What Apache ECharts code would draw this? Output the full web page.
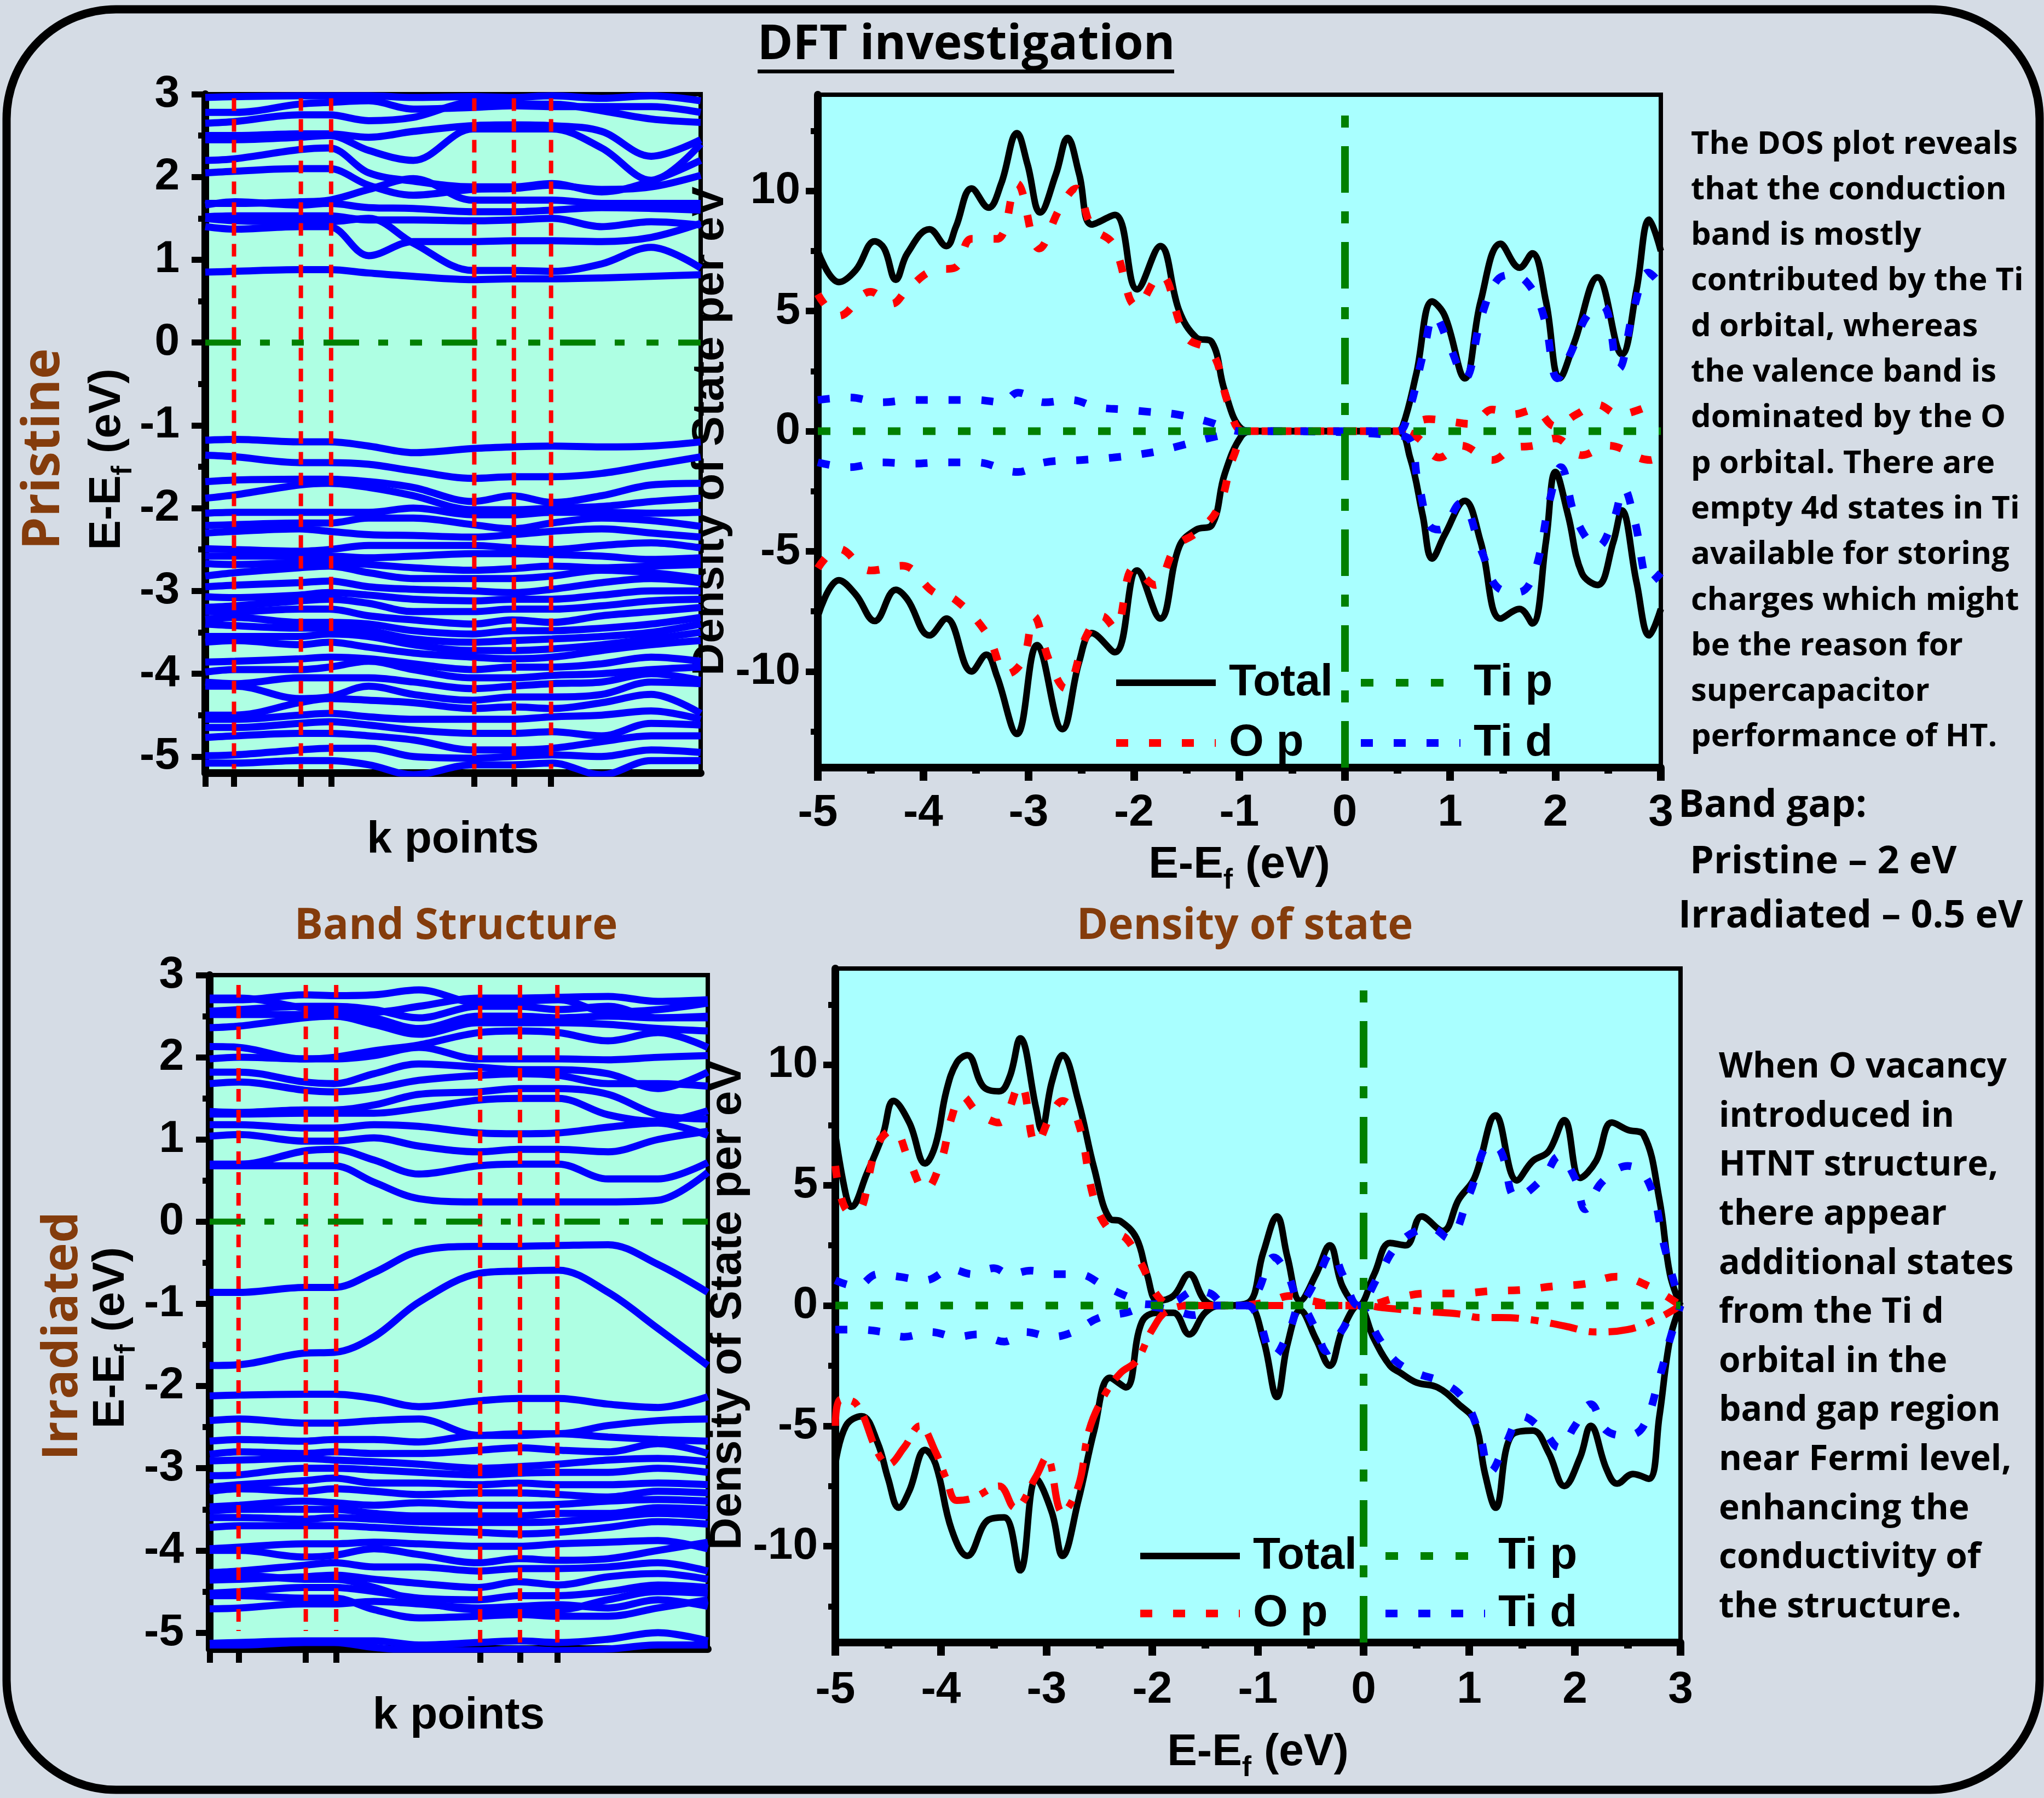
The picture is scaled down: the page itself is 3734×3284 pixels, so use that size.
<!DOCTYPE html>
<html>
<head>
<meta charset="utf-8">
<title>DFT investigation</title>
<script src="https://cdn.jsdelivr.net/npm/echarts@6.0.0/dist/echarts.min.js"></script>
<style>
  html, body { margin: 0; padding: 0; background: #D5DCE5; }
  #chart1 { width: 3734px; height: 3284px; }
</style>
</head>
<body>
<div id="chart1"></div>
<script>
// k path: sample positions along the path (0..100) and the high-symmetry points
var kGrid = [0, 6, 19, 25, 33, 42, 54, 62, 70, 80, 90, 100];
var kPoints = [5.8, 19.3, 25.4, 54.3, 62.3, 69.8];
var bandTicks = [-5, -4, -3, -2, -1, 0, 1, 2, 3];
var bandHalfTicks = [-4.5, -3.5, -2.5, -1.5, -0.5, 0.5, 1.5, 2.5];
var dosTicks = [-10, -5, 0, 5, 10];
var dosHalfTicks = [-12.5, -7.5, -2.5, 2.5, 7.5, 12.5];

// pristine bands (eV at each kGrid position)
var pristineCond = [
  [0.85, 0.86, 0.88, 0.88, 0.84, 0.80, 0.76, 0.77, 0.77, 0.78, 0.80, 0.82],
  [1.40, 1.37, 1.40, 1.40, 1.05, 1.22, 1.22, 1.23, 1.23, 1.22, 1.27, 1.44],
  [1.50, 1.47, 1.46, 1.46, 1.50, 1.20, 0.87, 0.87, 0.86, 0.95, 1.15, 0.90],
  [1.52, 1.53, 1.53, 1.53, 1.48, 1.48, 1.47, 1.48, 1.50, 1.40, 1.46, 1.42],
  [1.66, 1.70, 1.66, 1.68, 1.63, 1.62, 1.58, 1.58, 1.60, 1.63, 1.62, 1.60],
  [1.68, 1.68, 1.70, 1.72, 1.85, 1.98, 1.72, 1.72, 1.72, 1.68, 1.68, 1.68],
  [2.05, 2.07, 2.10, 2.10, 1.90, 1.78, 1.85, 1.86, 1.90, 1.85, 1.88, 2.02],
  [2.20, 2.22, 2.33, 2.35, 2.05, 1.95, 1.88, 1.88, 1.92, 1.82, 1.95, 2.20],
  [2.45, 2.45, 2.48, 2.50, 2.32, 2.20, 2.58, 2.58, 2.58, 2.35, 1.96, 2.40],
  [2.50, 2.50, 2.52, 2.52, 2.48, 2.55, 2.62, 2.63, 2.62, 2.55, 2.25, 2.45],
  [2.65, 2.67, 2.75, 2.75, 2.68, 2.72, 2.90, 2.88, 2.88, 2.80, 2.70, 2.66],
  [2.78, 2.78, 2.88, 2.90, 2.92, 2.82, 2.84, 2.86, 2.85, 2.85, 2.85, 2.78],
  [2.96, 2.97, 2.98, 2.98, 2.98, 2.96, 2.97, 2.96, 2.98, 2.95, 2.98, 2.92]
];
var pristineVal = [
  [-1.18, -1.17, -1.20, -1.20, -1.25, -1.33, -1.28, -1.26, -1.25, -1.26, -1.25, -1.20],
  [-1.36, -1.38, -1.45, -1.45, -1.47, -1.55, -1.64, -1.62, -1.62, -1.58, -1.48, -1.38],
  [-1.68, -1.66, -1.65, -1.65, -1.68, -1.75, -1.92, -1.85, -1.93, -1.85, -1.72, -1.70],
  [-1.88, -1.84, -1.72, -1.70, -1.75, -1.85, -2.02, -2.02, -2.00, -1.98, -1.92, -1.88],
  [-2.06, -2.05, -2.05, -2.05, -2.05, -2.00, -2.08, -2.08, -2.05, -2.05, -2.06, -2.05],
  [-2.21, -2.20, -2.18, -2.18, -2.12, -2.12, -2.20, -2.25, -2.18, -2.12, -2.15, -2.22],
  [-2.30, -2.28, -2.25, -2.28, -2.32, -2.33, -2.35, -2.32, -2.28, -2.25, -2.30, -2.35],
  [-2.49, -2.50, -2.52, -2.50, -2.45, -2.45, -2.45, -2.48, -2.50, -2.45, -2.42, -2.48],
  [-2.58, -2.58, -2.58, -2.58, -2.60, -2.58, -2.55, -2.55, -2.56, -2.58, -2.62, -2.60],
  [-2.67, -2.68, -2.66, -2.66, -2.68, -2.72, -2.75, -2.73, -2.70, -2.72, -2.70, -2.68],
  [-2.82, -2.78, -2.72, -2.70, -2.78, -2.85, -2.85, -2.85, -2.82, -2.75, -2.78, -2.85],
  [-2.95, -2.93, -2.90, -2.88, -2.95, -2.98, -3.00, -3.02, -2.98, -2.90, -2.85, -2.90],
  [-3.07, -3.08, -3.05, -3.02, -3.05, -3.10, -3.12, -3.10, -3.10, -3.05, -3.00, -3.00],
  [-3.20, -3.18, -3.12, -3.10, -3.15, -3.25, -3.25, -3.22, -3.22, -3.18, -3.12, -3.10],
  [-3.25, -3.25, -3.22, -3.22, -3.30, -3.35, -3.40, -3.35, -3.38, -3.30, -3.25, -3.20],
  [-3.34, -3.32, -3.38, -3.38, -3.40, -3.48, -3.52, -3.48, -3.48, -3.45, -3.40, -3.32],
  [-3.40, -3.42, -3.45, -3.45, -3.48, -3.58, -3.62, -3.60, -3.58, -3.55, -3.50, -3.40],
  [-3.55, -3.55, -3.55, -3.52, -3.55, -3.65, -3.72, -3.72, -3.70, -3.65, -3.58, -3.50],
  [-3.62, -3.60, -3.65, -3.62, -3.68, -3.75, -3.80, -3.82, -3.80, -3.72, -3.65, -3.60],
  [-3.86, -3.85, -3.82, -3.80, -3.82, -3.88, -3.95, -3.92, -3.92, -3.88, -3.80, -3.85],
  [-3.98, -3.95, -3.95, -3.92, -3.85, -3.95, -4.05, -4.05, -4.02, -4.00, -3.95, -3.92],
  [-4.10, -4.12, -4.05, -4.05, -4.05, -4.10, -4.18, -4.15, -4.12, -4.10, -4.00, -4.08],
  [-4.15, -4.15, -4.30, -4.28, -4.15, -4.25, -4.32, -4.28, -4.28, -4.25, -4.10, -4.12],
  [-4.50, -4.50, -4.35, -4.30, -4.32, -4.35, -4.42, -4.40, -4.42, -4.35, -4.25, -4.48],
  [-4.55, -4.55, -4.50, -4.48, -4.52, -4.55, -4.55, -4.55, -4.52, -4.50, -4.45, -4.55],
  [-4.65, -4.65, -4.60, -4.58, -4.62, -4.68, -4.72, -4.72, -4.70, -4.75, -4.60, -4.62],
  [-4.77, -4.75, -4.72, -4.72, -4.75, -4.80, -4.92, -4.92, -4.90, -4.82, -4.75, -4.75],
  [-4.99, -4.98, -4.92, -4.90, -4.90, -5.00, -5.02, -5.00, -4.98, -5.00, -4.92, -4.95],
  [-5.08, -5.08, -5.05, -5.05, -5.10, -5.22, -5.10, -5.10, -5.08, -5.22, -5.05, -5.05]
];

// irradiated bands
var irradCond = [
  [0.68, 0.68, 0.68, 0.68, 0.48, 0.28, 0.24, 0.24, 0.24, 0.24, 0.26, 0.60],
  [0.70, 0.70, 0.86, 0.88, 0.75, 0.58, 0.68, 0.70, 0.70, 0.52, 0.52, 0.72],
  [1.04, 1.06, 0.98, 0.98, 1.02, 0.92, 0.85, 0.88, 0.88, 0.85, 1.00, 1.10],
  [1.18, 1.18, 1.14, 1.14, 1.18, 1.16, 1.08, 1.07, 1.08, 1.15, 1.20, 1.05],
  [1.31, 1.31, 1.32, 1.32, 1.32, 1.38, 1.48, 1.50, 1.50, 1.30, 1.22, 1.35],
  [1.34, 1.33, 1.36, 1.36, 1.42, 1.55, 1.58, 1.62, 1.62, 1.55, 1.30, 1.25],
  [1.68, 1.70, 1.60, 1.58, 1.62, 1.72, 1.78, 1.80, 1.78, 1.68, 1.68, 1.65],
  [1.82, 1.82, 1.70, 1.68, 1.80, 1.92, 1.88, 1.85, 1.85, 1.80, 1.62, 1.82],
  [1.98, 2.00, 1.98, 1.98, 2.02, 2.12, 1.98, 1.98, 1.98, 1.97, 2.00, 2.02],
  [2.13, 2.12, 1.98, 2.00, 2.08, 2.15, 2.30, 2.32, 2.30, 2.20, 2.30, 2.12],
  [2.36, 2.38, 2.48, 2.50, 2.40, 2.28, 2.42, 2.42, 2.42, 2.40, 2.35, 2.32],
  [2.52, 2.52, 2.52, 2.55, 2.48, 2.35, 2.50, 2.50, 2.48, 2.50, 2.48, 2.50],
  [2.56, 2.58, 2.62, 2.62, 2.58, 2.48, 2.62, 2.62, 2.58, 2.62, 2.48, 2.48],
  [2.70, 2.70, 2.76, 2.75, 2.76, 2.82, 2.66, 2.68, 2.70, 2.55, 2.58, 2.66],
  [2.72, 2.72, 2.60, 2.58, 2.55, 2.62, 2.72, 2.72, 2.73, 2.74, 2.68, 2.70]
];
var irradGap = [
  [-0.86, -0.86, -0.80, -0.80, -0.62, -0.36, -0.30, -0.30, -0.29, -0.28, -0.52, -0.86],
  [-1.75, -1.74, -1.60, -1.59, -1.40, -0.98, -0.63, -0.60, -0.59, -0.86, -1.30, -1.75]
];
var irradVal = [
  [-2.12, -2.11, -2.10, -2.10, -2.15, -2.25, -2.18, -2.15, -2.15, -2.22, -2.26, -2.13],
  [-2.42, -2.40, -2.45, -2.45, -2.42, -2.40, -2.60, -2.58, -2.58, -2.48, -2.42, -2.40],
  [-2.67, -2.65, -2.67, -2.65, -2.65, -2.68, -2.60, -2.60, -2.58, -2.62, -2.65, -2.67],
  [-2.83, -2.80, -2.82, -2.80, -2.82, -2.82, -2.78, -2.75, -2.78, -2.80, -2.70, -2.82],
  [-2.91, -2.90, -2.88, -2.90, -2.92, -2.95, -3.00, -2.98, -2.95, -2.90, -2.88, -2.92],
  [-3.09, -3.08, -3.00, -3.00, -3.02, -3.05, -3.08, -3.06, -3.05, -3.05, -3.00, -3.05],
  [-3.23, -3.20, -3.15, -3.12, -3.18, -3.18, -3.20, -3.18, -3.20, -3.20, -3.18, -3.20],
  [-3.28, -3.25, -3.28, -3.25, -3.28, -3.32, -3.30, -3.30, -3.32, -3.35, -3.28, -3.30],
  [-3.47, -3.45, -3.40, -3.42, -3.45, -3.42, -3.45, -3.45, -3.44, -3.40, -3.38, -3.40],
  [-3.52, -3.50, -3.50, -3.50, -3.55, -3.58, -3.58, -3.58, -3.55, -3.55, -3.48, -3.50],
  [-3.60, -3.60, -3.62, -3.60, -3.62, -3.65, -3.66, -3.66, -3.65, -3.60, -3.55, -3.58],
  [-3.72, -3.70, -3.70, -3.70, -3.72, -3.75, -3.78, -3.80, -3.78, -3.72, -3.65, -3.68],
  [-3.98, -3.96, -3.92, -3.92, -3.90, -3.92, -3.95, -3.95, -3.92, -3.90, -3.88, -3.98],
  [-4.00, -4.00, -4.08, -4.06, -3.98, -4.05, -4.15, -4.10, -4.12, -4.10, -4.00, -3.90],
  [-4.27, -4.25, -4.18, -4.15, -4.20, -4.20, -4.25, -4.22, -4.22, -4.20, -4.15, -4.25],
  [-4.30, -4.30, -4.35, -4.35, -4.45, -4.62, -4.72, -4.70, -4.72, -4.60, -4.50, -4.52],
  [-4.36, -4.35, -4.32, -4.30, -4.35, -4.40, -4.45, -4.38, -4.42, -4.32, -4.28, -4.35],
  [-4.52, -4.50, -4.45, -4.45, -4.50, -4.58, -4.60, -4.55, -4.55, -4.50, -4.42, -4.45],
  [-4.55, -4.55, -4.58, -4.58, -4.72, -4.82, -4.80, -4.78, -4.80, -4.80, -4.70, -4.60],
  [-4.71, -4.70, -4.65, -4.65, -4.62, -4.65, -4.70, -4.68, -4.66, -4.70, -4.60, -4.68],
  [-5.13, -5.12, -5.10, -5.10, -5.10, -5.15, -5.12, -5.10, -5.12, -5.08, -5.00, -5.10],
  [-5.15, -5.15, -5.12, -5.12, -5.18, -5.22, -5.22, -5.20, -5.22, -5.20, -5.15, -5.15]
];

// red k-point guide lines: [top, bottom] energy of each dashed line
var kLineEndsPristine = [[2.95, -5.15], [2.95, -5.15], [2.95, -5.15], [2.95, -5.15], [2.95, -5.15], [2.95, -5.15]];
var kLineEndsIrrad = [[2.88, -4.98], [2.88, -4.98], [2.88, -4.98], [2.88, -5.12], [2.88, -5.12], [2.88, -5.12]];

// DOS, pristine: [E - Ef, states/eV]
var dosPTotalUp = [[-5, 7.5], [-4.8, 6.2], [-4.64, 6.7], [-4.46, 7.9], [-4.37, 7.6], [-4.26, 6.3], [-4.15, 7.4], [-3.94, 8.4], [-3.78, 7.7], [-3.69, 8.5], [-3.54, 10.1], [-3.38, 9.3], [-3.26, 10.3], [-3.11, 12.4], [-3.01, 11.1], [-2.89, 9.1], [-2.74, 10.7], [-2.63, 12.2], [-2.52, 10.7], [-2.4, 8.6], [-2.18, 9.0], [-1.97, 5.9], [-1.75, 7.7], [-1.57, 5.0], [-1.41, 3.9], [-1.26, 3.7], [-1.14, 1.7], [-0.98, 0.1], [-0.86, 0], [0.49, 0], [0.55, 0.2], [0.68, 2.4], [0.83, 5.4], [0.95, 4.8], [1.14, 2.2], [1.29, 5.4], [1.48, 7.8], [1.66, 6.8], [1.78, 7.4], [1.91, 5.4], [2.04, 2.2], [2.18, 3.7], [2.4, 6.4], [2.63, 3.2], [2.77, 5.9], [2.89, 8.8], [3, 7.5]];
var dosPTotalDn = [[-5, -7.7], [-4.8, -6.2], [-4.64, -6.8], [-4.46, -7.9], [-4.26, -6.6], [-4.15, -7.0], [-3.94, -8.5], [-3.78, -7.8], [-3.54, -10.0], [-3.4, -9.3], [-3.3, -10.2], [-3.11, -12.6], [-2.92, -8.9], [-2.68, -12.4], [-2.52, -9.6], [-2.4, -8.4], [-2.18, -9.2], [-1.97, -5.8], [-1.75, -7.8], [-1.57, -4.8], [-1.41, -4.1], [-1.26, -3.9], [-1.14, -1.8], [-0.98, -0.2], [-0.86, 0], [0.49, 0], [0.62, -1.1], [0.74, -3.5], [0.83, -5.3], [0.95, -4.3], [1.14, -2.9], [1.29, -4.6], [1.48, -7.8], [1.66, -7.4], [1.78, -8.0], [1.91, -4.6], [2.0, -1.7], [2.12, -3.5], [2.25, -5.9], [2.4, -6.4], [2.55, -4.6], [2.63, -3.3], [2.77, -6.3], [2.89, -8.5], [3, -7.4]];
var dosPOpUp = [[-5, 5.7], [-4.8, 4.8], [-4.5, 5.8], [-4.3, 5.3], [-4.15, 5.9], [-3.9, 6.7], [-3.7, 6.8], [-3.54, 8.0], [-3.3, 8.0], [-3.11, 10.3], [-2.9, 7.6], [-2.7, 9.3], [-2.55, 10.1], [-2.4, 8.5], [-2.2, 7.8], [-1.97, 5.2], [-1.75, 6.5], [-1.5, 3.9], [-1.26, 3.3], [-1.1, 1.1], [-0.95, 0], [0.5, 0], [0.6, 0.2], [0.8, 0.5], [1.0, 0.4], [1.2, 0.3], [1.4, 0.9], [1.6, 0.7], [1.8, 0.9], [2.0, 0.2], [2.2, 0.7], [2.4, 1.1], [2.6, 0.7], [2.8, 0.9], [3, 1.3]];
var dosPOpDn = [[-5, -5.7], [-4.8, -4.9], [-4.5, -5.8], [-4.2, -5.6], [-3.9, -6.7], [-3.7, -7.0], [-3.4, -8.4], [-3.2, -10.1], [-3.05, -9.5], [-2.95, -7.7], [-2.8, -9.6], [-2.65, -10.7], [-2.45, -8.5], [-2.3, -7.7], [-2.18, -8.2], [-2.0, -5.7], [-1.8, -6.4], [-1.6, -4.8], [-1.4, -4.2], [-1.2, -3.2], [-1.05, -1.0], [-0.9, 0], [0.55, 0], [0.7, -0.3], [0.9, -1.1], [1.1, -0.6], [1.4, -1.2], [1.6, -0.7], [1.8, -0.6], [2.0, -0.3], [2.25, -1.0], [2.5, -0.6], [2.9, -1.2], [3, -1.0]];
var dosPTdUp = [[-5, 1.3], [-4.7, 1.4], [-4.4, 1.2], [-4.1, 1.3], [-3.8, 1.3], [-3.5, 1.3], [-3.25, 1.2], [-3.1, 1.6], [-2.85, 1.2], [-2.6, 1.3], [-2.35, 1.0], [-2.1, 0.9], [-1.85, 0.8], [-1.6, 0.7], [-1.3, 0.4], [-1.1, 0.1], [-1.0, 0], [0.5, 0], [0.6, 0.7], [0.75, 3.3], [0.85, 4.8], [1.0, 3.5], [1.14, 2.2], [1.3, 4.8], [1.45, 6.3], [1.6, 6.5], [1.78, 5.9], [1.9, 4.6], [2.02, 2.2], [2.15, 3.3], [2.3, 4.8], [2.45, 5.2], [2.6, 2.6], [2.75, 5.2], [2.88, 6.6], [3, 6.1]];
var dosPTdDn = [[-5, -1.3], [-4.7, -1.5], [-4.4, -1.3], [-4.1, -1.35], [-3.8, -1.3], [-3.5, -1.3], [-3.1, -1.7], [-2.85, -1.3], [-2.5, -1.2], [-2.2, -1.1], [-1.85, -0.9], [-1.6, -0.65], [-1.3, -0.3], [-1.1, -0.1], [-1.0, 0], [0.55, -0.2], [0.7, -2.2], [0.8, -3.9], [0.9, -4.1], [1.1, -3.0], [1.3, -5.0], [1.45, -6.5], [1.65, -6.7], [1.8, -5.9], [1.95, -2.8], [2.05, -1.5], [2.2, -3.7], [2.4, -4.8], [2.55, -3.7], [2.65, -2.4], [2.75, -3.7], [2.9, -6.3], [3, -5.9]];

// DOS, irradiated
var dosITotalUp = [[-5, 7.1], [-4.9, 4.6], [-4.85, 4.1], [-4.7, 5.5], [-4.55, 7.1], [-4.45, 8.5], [-4.3, 7.6], [-4.15, 5.9], [-4.05, 6.7], [-3.95, 8.9], [-3.85, 10.1], [-3.75, 10.4], [-3.6, 9.1], [-3.45, 8.9], [-3.35, 9.5], [-3.25, 11.1], [-3.1, 8.2], [-3.05, 7.3], [-2.95, 9.3], [-2.85, 10.4], [-2.7, 8.5], [-2.55, 5.7], [-2.4, 3.6], [-2.3, 3.5], [-2.15, 2.8], [-2.05, 1.3], [-1.95, 0.2], [-1.8, 0.4], [-1.65, 1.3], [-1.5, 0.2], [-1.35, 0], [-1.1, 0.1], [-0.95, 2.2], [-0.82, 3.7], [-0.72, 2.0], [-0.6, 0.2], [-0.45, 1.3], [-0.32, 2.5], [-0.2, 0.8], [-0.05, 0], [0.1, 1.3], [0.25, 2.6], [0.4, 2.5], [0.55, 3.7], [0.75, 3.1], [0.9, 4.4], [1.05, 5.3], [1.25, 7.9], [1.45, 5.2], [1.6, 6.0], [1.75, 6.4], [1.9, 7.7], [2.05, 5.3], [2.2, 6.0], [2.35, 7.6], [2.5, 7.3], [2.65, 7.1], [2.8, 4.4], [2.9, 1.3], [3, 0]];
var dosITotalDn = [[-5, -6.6], [-4.9, -5.0], [-4.75, -4.6], [-4.6, -5.7], [-4.5, -7.2], [-4.4, -8.4], [-4.3, -7.7], [-4.15, -6.0], [-4.05, -6.6], [-3.9, -9.3], [-3.75, -10.4], [-3.55, -8.9], [-3.4, -8.8], [-3.25, -11.0], [-3.1, -7.2], [-2.95, -8.6], [-2.85, -10.4], [-2.7, -8.1], [-2.55, -5.2], [-2.4, -3.0], [-2.25, -3.4], [-2.1, -0.7], [-1.95, -0.3], [-1.8, -0.3], [-1.65, -1.2], [-1.5, -0.3], [-1.35, 0], [-1.1, 0], [-0.95, -1.4], [-0.82, -3.8], [-0.72, -1.6], [-0.6, -0.2], [-0.45, -1.4], [-0.32, -2.5], [-0.2, -1.0], [-0.05, 0], [0.1, -1.4], [0.25, -2.5], [0.35, -2.8], [0.5, -3.2], [0.7, -3.4], [0.9, -4.1], [1.05, -4.8], [1.15, -7.0], [1.25, -8.4], [1.4, -5.4], [1.6, -5.2], [1.75, -6.1], [1.9, -7.5], [2.05, -6.3], [2.15, -5.0], [2.3, -6.8], [2.4, -7.4], [2.55, -7.0], [2.7, -7.2], [2.8, -4.6], [2.9, -1.4], [3, 0]];
var dosIOpUp = [[-5, 5.8], [-4.9, 4.0], [-4.8, 3.9], [-4.6, 6.7], [-4.45, 7.3], [-4.3, 6.0], [-4.15, 4.8], [-4.0, 6.0], [-3.9, 7.8], [-3.8, 8.7], [-3.65, 8.0], [-3.45, 7.6], [-3.25, 9.2], [-3.1, 6.7], [-2.95, 8.0], [-2.85, 8.5], [-2.7, 7.6], [-2.55, 4.4], [-2.4, 3.1], [-2.25, 2.8], [-2.1, 1.7], [-1.95, 0.4], [-1.8, 0], [-1.2, 0], [-0.9, 0.15], [-0.7, 0.4], [-0.5, 0.2], [-0.2, 0], [0, 0], [0.3, 0.3], [0.6, 0.5], [0.9, 0.5], [1.2, 0.6], [1.5, 0.65], [1.8, 0.8], [2.1, 0.9], [2.4, 1.2], [2.7, 0.8], [3, 0]];
var dosIOpDn = [[-5, -5.0], [-4.95, -3.9], [-4.8, -4.1], [-4.6, -6.1], [-4.5, -6.6], [-4.35, -5.9], [-4.2, -5.0], [-4.05, -6.1], [-3.95, -7.2], [-3.85, -8.1], [-3.7, -8.0], [-3.45, -7.5], [-3.3, -8.4], [-3.1, -7.1], [-3.0, -6.3], [-2.85, -8.6], [-2.7, -7.5], [-2.6, -5.2], [-2.45, -3.7], [-2.3, -2.8], [-2.15, -2.3], [-2.0, -1.0], [-1.85, -0.2], [-1.6, 0], [0, 0], [0.2, -0.1], [0.6, -0.25], [0.9, -0.35], [1.1, -0.5], [1.3, -0.5], [1.6, -0.6], [1.9, -0.85], [2.2, -1.1], [2.5, -1.0], [2.8, -0.5], [3, 0]];
var dosITdUp = [[-5, 1.05], [-4.8, 0.8], [-4.6, 1.3], [-4.4, 1.2], [-4.15, 1.05], [-3.9, 1.5], [-3.7, 1.3], [-3.5, 1.55], [-3.35, 1.3], [-3.15, 1.45], [-2.95, 1.3], [-2.7, 1.3], [-2.45, 0.8], [-2.25, 0.4], [-2.05, 0.05], [-1.8, 0.15], [-1.6, 0.6], [-1.45, 0.5], [-1.3, 0], [-1.1, 0], [-1.0, 0.6], [-0.85, 2.0], [-0.72, 1.3], [-0.6, 0.15], [-0.45, 1.05], [-0.3, 2.2], [-0.2, 1.3], [-0.05, 0], [0.15, 1.3], [0.3, 2.4], [0.5, 3.1], [0.65, 3.2], [0.8, 2.8], [1.0, 4.6], [1.2, 6.7], [1.3, 6.4], [1.45, 4.5], [1.7, 5.3], [1.85, 6.2], [2.0, 5.3], [2.1, 4.0], [2.25, 5.1], [2.5, 5.8], [2.7, 5.1], [2.85, 2.4], [3, 0]];
var dosITdDn = [[-5, -1.0], [-4.8, -1.0], [-4.55, -1.1], [-4.35, -1.3], [-4.1, -1.1], [-3.85, -1.3], [-3.65, -1.2], [-3.4, -1.5], [-3.2, -1.1], [-2.95, -1.3], [-2.75, -1.1], [-2.5, -0.5], [-2.25, -0.3], [-2.05, -0.05], [-1.8, -0.2], [-1.6, -0.4], [-1.45, 0], [-1.1, 0], [-1.0, -0.5], [-0.85, -2.1], [-0.7, -1.0], [-0.6, 0], [-0.45, -1.0], [-0.35, -1.9], [-0.2, -1.0], [-0.05, 0], [0.15, -1.4], [0.3, -2.3], [0.5, -2.8], [0.75, -3.2], [0.95, -3.9], [1.1, -5.4], [1.2, -6.9], [1.35, -5.7], [1.5, -4.6], [1.7, -5.2], [1.85, -5.9], [2.0, -5.0], [2.15, -4.1], [2.3, -5.2], [2.5, -5.4], [2.65, -5.0], [2.8, -3.0], [2.9, -1.4], [3, 0]];
var dosTiP = [[-5, 0], [3, 0]];
var fermiDosEnds = [-14, 13.5];
var fermiBand = [[0, 0], [100, 0]];

// text blocks
var titleText = 'DFT investigation';
var topNote = ['The DOS plot reveals', 'that the conduction', 'band is mostly', 'contributed by the Ti', 'd orbital, whereas', 'the valence band is', 'dominated by the O', 'p orbital. There are', 'empty 4d states in Ti', 'available for storing', 'charges which might', 'be the reason for', 'supercapacitor', 'performance of HT.'];
var gapNote = ['Band gap:', 'Pristine \u2013 2 eV', 'Irradiated \u2013 0.5 eV'];
var bottomNote = ['When O vacancy', 'introduced in', 'HTNT structure,', 'there appear', 'additional states', 'from the Ti d', 'orbital in the', 'band gap region', 'near Fermi level,', 'enhancing the', 'conductivity of', 'the structure.'];

var dom = document.getElementById('chart1');
var myChart = echarts.init(dom, null, { renderer: 'canvas', useDirtyRect: false });

var ARIAL = 'Liberation Sans';
var CAL = 'Open Sans';
var BROWN = '#843C0C';

var labelStyle = { fontFamily: ARIAL, fontWeight: 'bold', fontSize: 82, color: '#000', lineHeight: 82 };
var eefName = '{a|E-E}{s|f}{a| (eV)}';
var eefRich = {
  a: { fontFamily: ARIAL, fontWeight: 'bold', fontSize: 82, color: '#000', lineHeight: 110 },
  s: { fontFamily: ARIAL, fontWeight: 'bold', fontSize: 52, color: '#000', lineHeight: 52, verticalAlign: 'bottom' }
};

function bandXAxis(grid) {
  return {
    gridIndex: grid, type: 'value', min: 0, max: 100,
    axisLine: { onZero: false, lineStyle: { color: '#000', width: 14 } },
    axisTick: { customValues: [0].concat(kPoints), length: 25, lineStyle: { color: '#000', width: 11 } },
    axisLabel: { show: false },
    splitLine: { show: false },
    name: 'k points', nameLocation: 'middle', nameGap: 81,
    nameTextStyle: labelStyle
  };
}
function bandYAxis(grid, gap) {
  return {
    gridIndex: grid, type: 'value', position: 'left', min: -5.2, max: 3,
    axisLine: { onZero: false, lineStyle: { color: '#000', width: 14 } },
    axisTick: { customValues: bandTicks, length: 25, lineStyle: { color: '#000', width: 11 } },
    axisLabel: Object.assign({ customValues: bandTicks, margin: 47 }, labelStyle),
    splitLine: { show: false },
    name: eefName, nameLocation: 'middle', nameGap: gap,
    nameTextStyle: { rich: eefRich, padding: [0, 94, 0, 0] }
  };
}
function minorYAxis(grid, min, max, vals) {
  return {
    gridIndex: grid, type: 'value', position: 'left', min: min, max: max,
    axisLine: { show: false, onZero: false },
    axisTick: { customValues: vals, length: 13, lineStyle: { color: '#000', width: 11 } },
    axisLabel: { show: false },
    splitLine: { show: false }
  };
}
function dosXAxis(grid, labelMargin, gap) {
  return {
    gridIndex: grid, type: 'value', min: -5, max: 3, interval: 1,
    axisLine: { onZero: false, lineStyle: { color: '#000', width: 14 } },
    axisTick: { length: 24, lineStyle: { color: '#000', width: 14 } },
    minorTick: { show: true, splitNumber: 2, length: 11, lineStyle: { color: '#000', width: 14 } },
    axisLabel: Object.assign({ margin: labelMargin }, labelStyle),
    splitLine: { show: false },
    name: eefName, nameLocation: 'middle', nameGap: gap,
    nameTextStyle: { rich: eefRich }
  };
}
function dosYAxis(grid, gap) {
  return {
    gridIndex: grid, type: 'value', position: 'left', min: -14, max: 14,
    axisLine: { onZero: false, lineStyle: { color: '#000', width: 14 } },
    axisTick: { customValues: dosTicks, length: 22, lineStyle: { color: '#000', width: 12 } },
    axisLabel: Object.assign({ customValues: dosTicks, margin: 32 }, labelStyle),
    splitLine: { show: false },
    name: 'Density of State per eV', nameLocation: 'middle', nameGap: gap,
    nameTextStyle: labelStyle
  };
}

function bandLines(bands, xi, yi) {
  return bands.map(function (b) {
    return {
      type: 'line', xAxisIndex: xi, yAxisIndex: yi, silent: true, symbol: 'none', smooth: 0.35, z: 2,
      lineStyle: { color: '#0000FF', width: 13 },
      data: b.map(function (e, i) { return [kGrid[i], e]; })
    };
  });
}
function kLines(ends, xi, yi) {
  return kPoints.map(function (k, i) {
    return {
      type: 'line', xAxisIndex: xi, yAxisIndex: yi, silent: true, symbol: 'none', z: 3,
      lineStyle: { color: '#FF0000', width: 8, type: [23, 15] },
      data: [[k, ends[i][0]], [k, ends[i][1]]]
    };
  });
}
function plainLine(data, xi, yi, color, width, dash, z, name) {
  var s = {
    type: 'line', xAxisIndex: xi, yAxisIndex: yi, silent: true, symbol: 'none', z: z,
    itemStyle: { color: color },
    lineStyle: { color: color, width: width, type: dash },
    data: data
  };
  if (name) s.name = name;
  return s;
}
// vertical Fermi level in the DOS panels, drawn as a mark line from the Ti p series
function withFermiMark(s) {
  s.markLine = {
    silent: true, symbol: 'none', animation: false,
    label: { show: false },
    lineStyle: { color: '#008000', width: 14, type: [85, 34, 22, 34] },
    data: [[{ coord: [0, fermiDosEnds[0]] }, { coord: [0, fermiDosEnds[1]] }]]
  };
  return s;
}
function dosLine(name, data, xi, yi, color, width, dash, z) {
  var s = plainLine(data, xi, yi, color, width, dash, z, name);
  s.smooth = 0.4;
  return s;
}
function dosLegend(names, left, top, gap) {
  return {
    data: names, orient: 'vertical', left: left, top: top, padding: 0,
    itemGap: gap, itemWidth: 182, itemHeight: 20, selectedMode: false,
    itemStyle: { color: 'rgba(0,0,0,0)', borderWidth: 0 },
    lineStyle: { width: 'inherit' },
    textStyle: { fontFamily: ARIAL, fontWeight: 'bold', fontSize: 82, color: '#000', lineHeight: 82, padding: [0, 0, 0, 19] }
  };
}

var series = [];
// top-left: pristine band structure (x 0, y 0)
series = series.concat(bandLines(pristineCond, 0, 0), bandLines(pristineVal, 0, 0), kLines(kLineEndsPristine, 0, 0));
series.push(plainLine(fermiBand, 0, 0, '#008000', 11, [65, 35, 18, 40, 22, 36], 4));
// bottom-left: irradiated band structure (x 2, y 4)
series = series.concat(bandLines(irradCond, 2, 4), bandLines(irradGap, 2, 4), bandLines(irradVal, 2, 4), kLines(kLineEndsIrrad, 2, 4));
series.push(plainLine(fermiBand, 2, 4, '#008000', 11, [65, 35, 18, 40, 22, 36], 4));
// top-right: pristine DOS (x 1, y 2)
series.push(
  dosLine('Total', dosPTotalUp, 1, 2, '#000', 12, 'solid', 2),
  dosLine('Total dn', dosPTotalDn, 1, 2, '#000', 12, 'solid', 2),
  dosLine('O p', dosPOpUp, 1, 2, '#FF0000', 14, [22, 38], 3),
  dosLine('O p dn', dosPOpDn, 1, 2, '#FF0000', 14, [22, 38], 3),
  dosLine('Ti d', dosPTdUp, 1, 2, '#0000FF', 14, [22, 38], 3),
  dosLine('Ti d dn', dosPTdDn, 1, 2, '#0000FF', 14, [22, 38], 3),
  withFermiMark(plainLine(dosTiP, 1, 2, '#008000', 14, [23, 41], 4, 'Ti p'))
);
// bottom-right: irradiated DOS (x 3, y 6)
series.push(
  dosLine('Total', dosITotalUp, 3, 6, '#000', 12, 'solid', 2),
  dosLine('Total dn', dosITotalDn, 3, 6, '#000', 12, 'solid', 2),
  dosLine('O p', dosIOpUp, 3, 6, '#FF0000', 14, [22, 38], 3),
  dosLine('O p dn', dosIOpDn, 3, 6, '#FF0000', 13, [50, 22, 14, 22], 3),
  dosLine('Ti d', dosITdUp, 3, 6, '#0000FF', 14, [22, 38], 3),
  dosLine('Ti d dn', dosITdDn, 3, 6, '#0000FF', 14, [22, 38], 3),
  withFermiMark(plainLine(dosTiP, 3, 6, '#008000', 14, [23, 41], 4, 'Ti p'))
);

function textEl(str, x, y, size, color, align, rotation) {
  return {
    type: 'text', x: x, y: y, rotation: rotation || 0, z: 10,
    style: { text: str, fill: color, fontFamily: CAL, fontWeight: 'bold', fontSize: size, align: align, verticalAlign: 'middle' }
  };
}
var graphics = [
  { type: 'rect', z: 20, shape: { x: 12, y: 17, width: 3714, height: 3252, r: 200 }, style: { fill: 'none', stroke: '#000', lineWidth: 15 } },
  textEl(titleText, 1765, 83, 88, '#000', 'center'),
  { type: 'rect', z: 10, shape: { x: 1384, y: 127, width: 761, height: 7 }, style: { fill: '#000' } },
  textEl('Pristine', 81, 820, 95, BROWN, 'center', Math.PI / 2),
  textEl('Irradiated', 115, 2440, 90, BROWN, 'center', Math.PI / 2),
  textEl('Band Structure', 833, 1693, 78, BROWN, 'center'),
  textEl('Density of state', 2274, 1693, 78, BROWN, 'center')
];
topNote.forEach(function (line, i) { graphics.push(textEl(line, 3089, 264 + i * 83.3, 58, '#000', 'left')); });
graphics.push(textEl(gapNote[0], 3066, 1472, 70, '#000', 'left'));
graphics.push(textEl(gapNote[1], 3087, 1575, 70, '#000', 'left'));
graphics.push(textEl(gapNote[2], 3066, 1674, 70, '#000', 'left'));
bottomNote.forEach(function (line, i) { graphics.push(textEl(line, 3140, 1950 + i * 89.6, 64, '#000', 'left')); });

var gridBase = { show: true, borderColor: '#000', borderWidth: 8, outerBoundsMode: 'none' };

var option = {
  animation: false,
  backgroundColor: '#D5DCE5',
  grid: [
    Object.assign({ left: 375, top: 172, width: 905, height: 1240, backgroundColor: '#AEFFE3' }, gridBase),
    Object.assign({ left: 1494, top: 173, width: 1540, height: 1229, backgroundColor: '#A9FFFF' }, gridBase),
    Object.assign({ left: 383, top: 1781, width: 910, height: 1231, backgroundColor: '#AEFFE3' }, gridBase),
    Object.assign({ left: 1526, top: 1769, width: 1544, height: 1231, backgroundColor: '#A9FFFF' }, gridBase)
  ],
  xAxis: [
    bandXAxis(0),
    dosXAxis(1, 42, 123),
    bandXAxis(2),
    dosXAxis(3, 46, 146)
  ],
  yAxis: [
    bandYAxis(0, 118),
    minorYAxis(0, -5.2, 3, bandHalfTicks),
    dosYAxis(1, 128),
    minorYAxis(1, -14, 14, dosHalfTicks),
    bandYAxis(2, 125),
    minorYAxis(2, -5.2, 3, bandHalfTicks),
    dosYAxis(3, 130),
    minorYAxis(3, -14, 14, dosHalfTicks)
  ],
  legend: [
    dosLegend(['Total', 'O p'], 2032, 1206, 28),
    dosLegend(['Ti p', 'Ti d'], 2479, 1206, 28),
    dosLegend(['Total', 'O p'], 2076, 2801, 23),
    dosLegend(['Ti p', 'Ti d'], 2524, 2801, 23)
  ],
  graphic: { elements: graphics },
  series: series
};

if (option && typeof option === 'object') {
  myChart.setOption(option);
}

window.addEventListener('resize', myChart.resize);
</script>
</body>
</html>
